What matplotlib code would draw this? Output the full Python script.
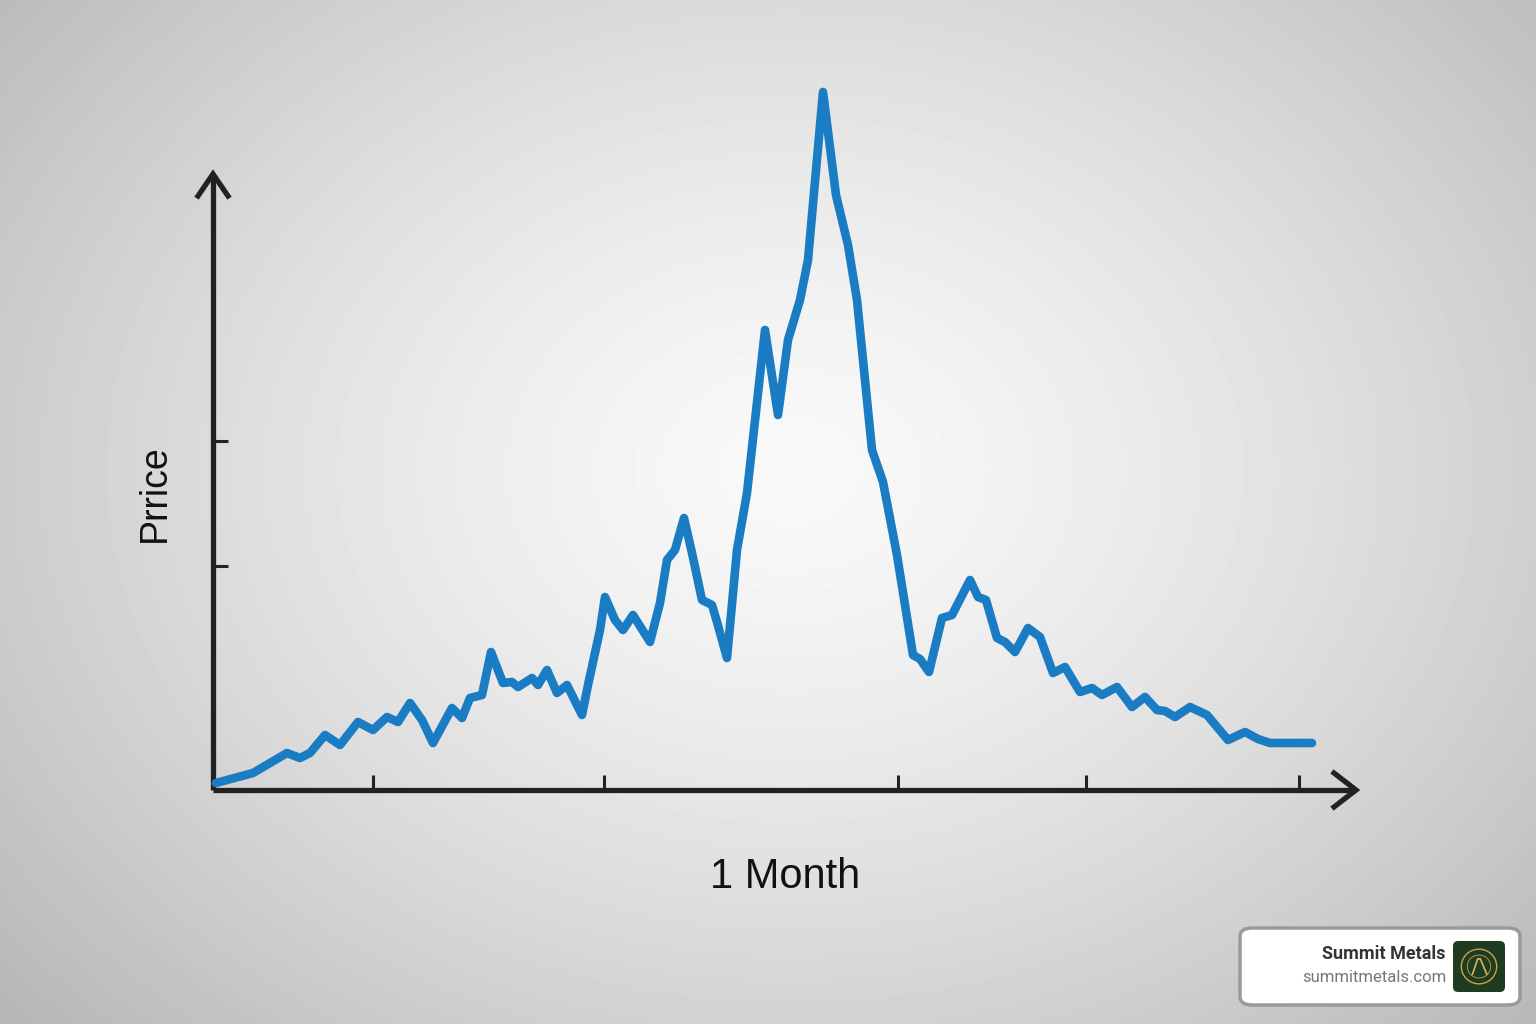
import numpy as np
import matplotlib
matplotlib.use('Agg')
import matplotlib.pyplot as plt
from matplotlib.patches import FancyBboxPatch, Circle

# price path (x: time units, y: price units, origin at axes corner)
t = [3, 40, 57, 74, 87, 97, 112, 127, 145, 160, 174, 185, 197, 209, 220,
     239, 249, 257, 269, 278, 290, 299, 305, 319, 325, 334, 344, 354, 369,
     375, 387, 392, 402, 410, 420, 437, 447, 454, 462, 471, 479, 489, 499,
     504, 514, 524, 534, 552, 565, 575, 587, 595, 610, 623, 635, 644, 659,
     670, 684, 700, 707, 716, 729, 739, 757, 765, 773, 784, 792, 802, 815,
     827, 840, 852, 867, 879, 889, 904, 919, 932, 944, 952, 962, 977, 994,
     1015, 1032, 1045, 1057, 1099]
price = [7, 17, 27, 37, 32, 37, 55, 45, 68, 60, 73, 68, 87, 70, 47,
         82, 72, 92, 95, 138, 107, 108, 103, 112, 105, 120, 97, 105, 75,
         105, 160, 193, 170, 160, 175, 148, 187, 230, 240, 272, 237, 190, 185,
         168, 132, 240, 297, 460, 375, 450, 490, 530, 698, 595, 545, 490, 340,
         308, 235, 135, 131, 118, 172, 175, 210, 193, 190, 152, 148, 138, 162,
         153, 117, 123, 98, 102, 95, 103, 83, 93, 80, 79, 73, 83, 75,
         50, 58, 51, 47, 47]

x_ticks = [160, 391, 685, 873, 1086]
y_ticks = [224, 349]

x_label = '1 Month'
y_label = 'Prrice'
brand = 'Summit Metals'
brand_url = 'summitmetals.com'

W, H = 1536, 1024
fig = plt.figure(figsize=(W / 100, H / 100), dpi=100)

# radial gradient background
bg = fig.add_axes([0, 0, 1, 1])
yy, xx = np.mgrid[0:H, 0:W]
r = np.sqrt(((xx - 790) / 900.0) ** 2 + ((yy - 470) / 700.0) ** 2)
shade = 0.975 - 0.21 * np.clip(r, 0, 1.3) ** 1.4
bg.imshow(shade, cmap='gray', vmin=0, vmax=1, extent=[0, W, H, 0], aspect='auto')
bg.set_xlim(0, W)
bg.set_ylim(H, 0)
bg.axis('off')

# chart axes, origin at the corner of the drawn axes
x0, y0, x1, y1 = 213, 790, 1362, 168
ax = fig.add_axes([x0 / W, 1 - y0 / H, (x1 - x0) / W, (y0 - y1) / H])
ax.set_xlim(0, x1 - x0)
ax.set_ylim(0, y0 - y1)
ax.patch.set_alpha(0)
for s in ax.spines.values():
    s.set_visible(False)

ink = '#222222'
ax.plot([0, 1143], [0, 0], color=ink, lw=3.8, solid_capstyle='butt', clip_on=False)
ax.plot([0, 0], [0, 616], color=ink, lw=3.8, solid_capstyle='butt', clip_on=False)
ax.plot([1121, 1143, 1121], [17, 0, -17], color=ink, lw=3.8, clip_on=False,
        solid_joinstyle='miter')
ax.plot([-15, 0, 15], [594, 616, 594], color=ink, lw=3.8, clip_on=False,
        solid_joinstyle='miter')

ax.set_xticks(x_ticks)
ax.set_yticks(y_ticks)
ax.set_xticklabels([])
ax.set_yticklabels([])
ax.tick_params(direction='in', length=11, width=2.2, color=ink)

ax.plot(t, price, color='#1a7cc3', lw=6.2, solid_capstyle='round',
        solid_joinstyle='round', clip_on=False, zorder=3)

fig.text(785 / W, 1 - 877 / H, x_label, ha='center', va='center',
         fontsize=30, family='Liberation Sans', color='#111111')
fig.text(155 / W, 1 - 493 / H, y_label, ha='center', va='center', rotation=90,
         fontsize=27, family='Liberation Sans', color='#111111')

# watermark badge
badge = FancyBboxPatch((1240 / W, 1 - 1005 / H), 280 / W, 77 / H,
                       boxstyle='round,pad=0,rounding_size=0.008',
                       transform=fig.transFigure, facecolor='white',
                       edgecolor='#9a9a9a', lw=2.5, zorder=1)
fig.patches.append(badge)
fig.text(1446 / W, 1 - 954 / H, brand, ha='right', va='center', fontsize=13,
         fontweight='bold', family='Roboto', color='#333333', zorder=5)
fig.text(1446 / W, 1 - 977 / H, brand_url, ha='right', va='center', fontsize=12,
         family='Roboto', color='#777777', zorder=5)

lx = fig.add_axes([1453 / W, 1 - 992 / H, 52 / W, 51 / H])
lx.set_zorder(6)
lx.set_xlim(-1, 1)
lx.set_ylim(-1, 1)
lx.axis('off')
lx.add_patch(FancyBboxPatch((-1, -1), 2, 2, boxstyle='round,pad=0,rounding_size=0.2',
                            facecolor='#1f3b22', edgecolor='none'))
lx.add_patch(Circle((0, 0), 0.68, fill=False, edgecolor='#c9a44a', lw=1.0))
lx.add_patch(Circle((0, 0), 0.45, fill=False, edgecolor='#c9a44a', lw=0.6))
lx.plot([-0.25, -0.05, 0.05, 0.3], [-0.3, 0.3, 0.3, -0.3], color='#d8b45a', lw=1.2)

fig.savefig('out.png', dpi=100)
